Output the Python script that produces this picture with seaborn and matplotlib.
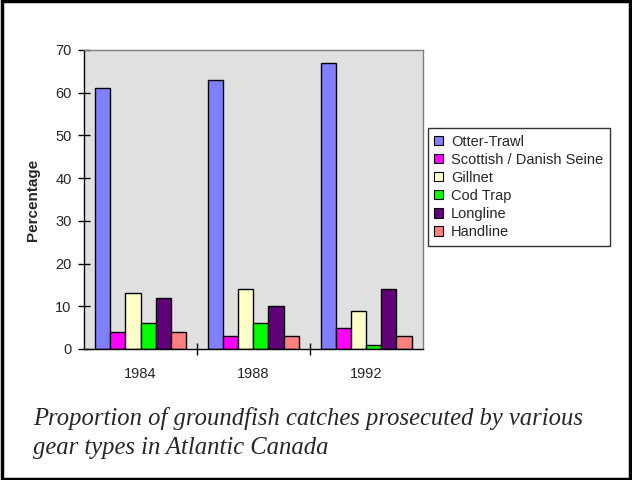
import matplotlib
matplotlib.use("Agg")
import matplotlib.pyplot as plt
import matplotlib.patches as mpatches
import seaborn as sns
import pandas as pd

# data
years = ["1984", "1988", "1992"]
gears = ["Otter-Trawl", "Scottish / Danish Seine", "Gillnet", "Cod Trap", "Longline", "Handline"]
otter = [61, 63, 67]
seine = [4, 3, 5]
gillnet = [13, 14, 9]
cod_trap = [6, 6, 1]
longline = [12, 10, 14]
handline = [4, 3, 3]
colors = ["#8080ff", "#ff00ff", "#ffffc8", "#00ff00", "#600078", "#ff8080"]

values = [otter, seine, gillnet, cod_trap, longline, handline]
rows = []
for g, vals in zip(gears, values):
    for y, v in zip(years, vals):
        rows.append({"year": y, "gear": g, "pct": v})
df = pd.DataFrame(rows)

sns.set_style("white")
plt.rcParams["font.family"] = ["Liberation Sans", "DejaVu Sans"]

fig = plt.figure(figsize=(6.32, 4.8), dpi=100)
ax = fig.add_axes([0.133, 0.273, 0.536, 0.623])

sns.barplot(data=df, x="year", y="pct", hue="gear", hue_order=gears,
            palette=colors, edgecolor="black", linewidth=1, width=0.8,
            saturation=1, legend=False, ax=ax)

ax.set_facecolor("#e0e0e0")
ax.set_ylim(0, 70)
ax.set_xlim(-0.5, 2.5)
ax.set_yticks(range(0, 71, 10))
ax.tick_params(axis="y", left=True, direction="inout", length=8, width=1,
               color="black", labelsize=10.5, pad=5)
ax.tick_params(axis="x", length=0, labelsize=10.5, pad=13)
ax.set_xticks([0.5, 1.5], minor=True)
ax.tick_params(axis="x", which="minor", bottom=True, direction="inout", length=9,
               width=1, color="black")
ax.set_xlabel("")
ax.set_ylabel("Percentage", fontsize=11, fontweight="bold", labelpad=11)

for side in ["left", "bottom"]:
    ax.spines[side].set_color("black")
    ax.spines[side].set_linewidth(1)
for side in ["top", "right"]:
    ax.spines[side].set_color("#808080")
    ax.spines[side].set_linewidth(1)

handles = [mpatches.Patch(facecolor=c, edgecolor="black", linewidth=0.8, label=g)
           for g, c in zip(gears, colors)]
leg = fig.legend(handles=handles, loc="upper left", bbox_to_anchor=(0.677, 0.733),
                 fontsize=10.5, frameon=True, fancybox=False, edgecolor="black",
                 handlelength=0.6, handleheight=0.6, handletextpad=0.55,
                 labelspacing=0.28, borderpad=0.45, borderaxespad=0)
leg.get_frame().set_linewidth(1)

fig.text(0.052, 0.098,
         "Proportion of groundfish catches prosecuted by various\ngear types in Atlantic Canada",
         fontsize=17.7, fontstyle="italic", family=["Liberation Serif", "DejaVu Serif"],
         linespacing=1.4, va="center", ha="left")

# black frame round the whole picture
fig.patches.append(mpatches.Rectangle((0.003, 0.003), 0.994, 0.994, transform=fig.transFigure,
                                      fill=False, edgecolor="black", linewidth=2.5))

fig.savefig("out.png", dpi=100)
